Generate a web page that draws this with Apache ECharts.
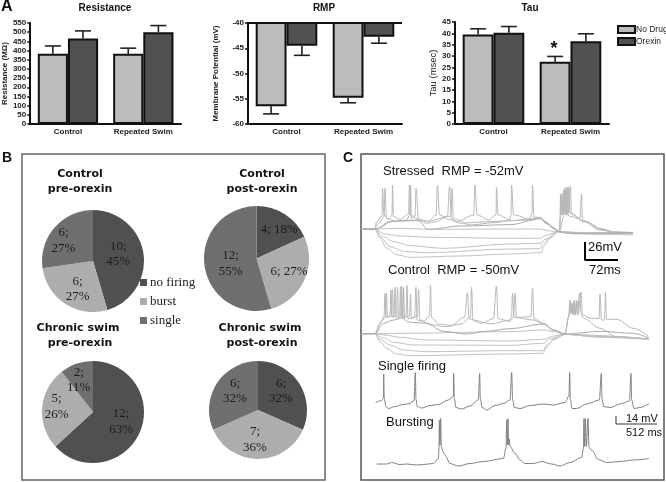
<!DOCTYPE html>
<html><head><meta charset="utf-8">
<script src="https://cdn.jsdelivr.net/npm/echarts@6/dist/echarts.min.js"></script>
<style>html,body{margin:0;padding:0;background:#fff}#c{width:666px;height:482px}</style></head>
<body><div id="c"></div>
<script>
// ---- Panel A data ----
const barCategories = ['Control', 'Repeated Swim'];
const drugNames = ['No Drug', 'Orexin'];
const resistanceNoDrug = [383, 382], resistanceOrexin = [465, 500];
const resistanceNoDrugErr = [425, 413], resistanceOrexinErr = [507, 536];
const rmpNoDrug = [-56.5, -54.8], rmpOrexin = [-44.5, -42.7];
const rmpNoDrugErr = [-58, -55.8], rmpOrexinErr = [-46.4, -44];
const tauNoDrug = [39.5, 27.5], tauOrexin = [40.3, 36.5];
const tauNoDrugErr = [42, 29.8], tauOrexinErr = [43, 39.8];
// ---- Panel B data ----
const firingNames = ['no firing', 'burst', 'single'];
const pieControlPre = [10, 6, 6], pieControlPrePct = [45, 27, 27];
const pieControlPost = [4, 6, 12], pieControlPostPct = [18, 27, 55];
const pieSwimPre = [12, 5, 2], pieSwimPrePct = [63, 26, 11];
const pieSwimPost = [6, 7, 6], pieSwimPostPct = [32, 36, 32];
// ---- Panel C data: [time ms, membrane potential mV] ----
const stressedHyper1 = [[0,-53.5],[28,-53.5],[78,-52.5],[135,-54],[298,-53.5],[358,-53.5],[378,-56.5],[395,-57.5],[445,-60],[544,-58.5]];
const stressedHyper2 = [[0,-53.5],[28,-54],[48,-61],[78,-64],[145,-66],[298,-67.5],[358,-67.5],[371,-62.5],[395,-57.5],[451,-59],[544,-59]];
const stressedHyper3 = [[0,-53.5],[28,-54],[45,-65],[65,-72.5],[98,-78.5],[165,-82.5],[298,-76],[358,-75],[368,-69],[395,-57.5],[478,-61.5],[544,-62.5]];
const stressedHyper4 = [[0,-53.5],[28,-54],[41,-67],[58,-80],[85,-87],[131,-89],[298,-83.5],[358,-83],[365,-75],[378,-66],[395,-57.5],[430,-61],[544,-60.5]];
const stressedHyper5 = [[0,-53.5],[28,-54],[38,-67],[51,-82],[71,-92],[98,-96],[198,-94],[298,-91],[361,-89],[365,-80],[378,-67.5],[395,-57.5],[425,-60],[544,-60]];
const stressedSpikeA = [[0,-53.5],[28,-54],[31,-42.5],[42,-34],[43,7.5],[46,-32.5],[55,-39],[62,-32.5],[63,12.5],[65,-35],[78,-39],[95,-31],[97,12.5],[99,-32.5],[115,-39],[135,-42],[150,-33],[153,12.5],[157,-32],[175,-39],[191,-42.5],[225,-33],[228,12.5],[232,-32],[255,-40],[270,-32],[271,9],[274,-32],[298,-40],[300,-32],[301,12.5],[305,-32],[338,-39],[342,-30],[343,12.5],[346,-36],[358,-36],[368,-42.5],[385,-52.5],[397,-57.5],[398,-35],[399,-1],[400,-32.5],[402,0],[403,-32.5],[406,7.5],[408,-30],[410,9],[411,-30],[414,10],[415,-30],[419,11],[421,-30],[445,-42.5],[478,-55],[511,-59],[544,-60]];
const stressedSpikeB = [[0,-53.5],[28,-54],[35,-45],[46,-35],[48,7.5],[51,-37.5],[70,-42],[91,-40],[97,-33],[99,12],[101,-37.5],[108,-34],[110,7.5],[115,-39],[131,-45],[151,-42.5],[173,-34],[177,10],[181,-39],[198,-45],[240,-43],[298,-41],[345,-38],[358,-36],[368,-42],[385,-52],[397,-57.5],[399,-35],[402,-5],[404,-32],[407,5],[409,-32],[411,7],[413,-32],[416,8],[418,-30],[438,-37.5],[441,-1],[443,-40],[458,-45],[478,-52.5],[505,-57.5],[544,-59]];
const stressedSpikeC = [[0,-53.5],[28,-54],[65,-42],[110,-41],[131,-42],[180,-34],[182,7.5],[185,-38],[218,-47.5],[265,-44],[298,-41],[345,-40],[358,-36],[370,-44],[385,-52],[397,-57.5],[405,-35],[408,5],[410,-33],[412,7],[414,-33],[421,-35],[451,-42.5],[478,-54],[518,-60],[544,-60]];
const stressedQuiet = [[0,-53.5],[28,-54],[60,-42],[112,-40],[135,-54],[200,-49],[298,-47],[358,-38],[372,-46],[397,-57.5],[411,-60],[544,-59]];
const controlHyper1 = [[0,-50.5],[28,-50.5],[78,-50],[298,-47.5],[365,-45],[385,-47.5],[408,-51.5],[470,-55],[575,-58]];
const controlHyper2 = [[0,-50.5],[28,-50.5],[48,-52.5],[78,-56],[131,-60],[298,-61.5],[365,-59],[385,-54],[408,-51.5],[575,-58.5]];
const controlHyper3 = [[0,-50.5],[28,-50.5],[41,-56],[65,-63.5],[105,-67.5],[298,-68],[365,-65],[378,-58],[408,-51.5],[480,-54],[575,-58.5]];
const controlHyper4 = [[0,-50.5],[28,-50.5],[38,-59],[58,-67.5],[85,-75],[131,-77.5],[298,-76],[365,-76],[371,-67.5],[388,-57.5],[408,-51.5],[480,-55],[575,-59]];
const controlHyper5 = [[0,-50.5],[28,-50.5],[38,-62.5],[51,-72.5],[71,-81],[98,-83.5],[298,-81],[365,-80],[368,-72.5],[385,-60],[408,-51.5],[478,-56],[575,-59]];
const controlSpikeA = [[0,-50.5],[28,-50.5],[38,-35],[46,-25],[48,10],[50,-26],[58,-24],[60,15],[62,-26],[66,-24],[68,19],[70,-27],[77,-24],[79,20],[81,-27],[90,-24],[92,22],[94,-28],[107,-26],[110,19],[112,-30],[125,-32],[137,-24],[139,22],[141,-26],[155,-36],[180,-38],[207,-26],[213,11],[216,-28],[240,-35],[265,-28],[271,21],[274,-28],[298,-32],[305,-26],[308,10],[311,-26],[340,-25],[343,18],[346,-28],[365,-35],[385,-45],[408,-51],[415,-25],[418,0],[420,-20],[422,-5],[424,-22],[426,0],[428,-22],[431,0],[433,-22],[437,10],[440,-20],[445,-27.5],[478,-42.5],[511,-55],[575,-59]];
const controlSpikeB = [[0,-50.5],[28,-50.5],[40,-33],[49,-25],[51,10],[53,-26],[61,-24],[63,16],[65,-26],[71,-24],[73,19],[75,-27],[79,-24],[81,20],[83,-27],[97,-24],[99,9],[101,-28],[113,-24],[115,16],[118,-30],[140,-37],[170,-40],[200,-36],[219,-26],[221,19],[224,-30],[260,-36],[298,-30],[301,-26],[303,10],[306,-26],[345,-30],[365,-36],[385,-45],[408,-51],[416,-25],[419,-2],[421,-20],[423,-5],[425,-22],[427,-3],[429,-22],[432,-2],[434,-22],[440,12],[443,-22],[458,-27],[476,-28],[478,9],[481,-30],[487,-30],[489,12],[491,-29],[511,-29],[545,-42.5],[575,-55]];
const controlSpikeC = [[0,-50.5],[28,-50.5],[45,-35],[65,-30],[83,-27],[85,19],[87,-30],[95,-33],[130,-35],[165,-47],[210,-51],[250,-47],[298,-43],[365,-36],[385,-45],[408,-51],[480,-47],[545,-50],[575,-57]];
const singleFiring = [[68,-35],[140,-31],[160,-27],[164,22],[172,-27],[192,-43],[220,-47],[300,-43],[400,-39],[480,-37],[528,-31],[544,25],[552,-30],[568,-43],[620,-46],[720,-41],[820,-39],[940,-30],[1000,-22],[1004,23],[1012,-27],[1032,-45],[1100,-48],[1200,-42],[1300,-30],[1316,23],[1324,-27],[1344,-45],[1400,-50],[1500,-41],[1600,-37],[1680,-30],[1700,25],[1712,-30],[1732,-45],[1800,-47],[1920,-41],[2080,-38],[2200,-40],[2340,-35],[2388,-22],[2396,25],[2404,-30],[2424,-47],[2480,-47],[2600,-38],[2752,-30],[2776,23],[2784,-27],[2804,-43],[2880,-45],[3020,-37],[3112,-32],[3132,23],[3140,-30],[3168,-47],[3240,-45],[3348,-37]];
const bursting = [[80,-68],[200,-68],[260,-65],[360,-69],[440,-68],[560,-70],[640,-69],[760,-67],[820,-57],[828,-37],[832,20],[840,-30],[848,23],[856,-33],[864,-33],[900,-50],[960,-67],[1060,-72],[1200,-67],[1360,-63],[1600,-57],[1632,-37],[1640,20],[1648,-30],[1656,23],[1664,-30],[1672,-18],[1680,-33],[1740,-47],[1800,-60],[1860,-67],[1960,-67],[2060,-63],[2180,-68],[2280,-72],[2400,-65],[2540,-55],[2560,-37],[2568,23],[2576,-33],[2584,23],[2596,-33],[2616,23],[2628,-35],[2660,-40],[2740,-59],[2840,-65],[3000,-63],[3160,-60],[3348,-57]];
const scaleBarFamily = [[448,-73],[448,-100],[514,-100]];
const scaleBarSpont = [[2952,28],[2952,12],[3444,12]];

const SANS = '"Liberation Sans", Arial, sans-serif', SERIF = '"Liberation Serif", serif', VERD = '"DejaVu Sans", sans-serif';
const LIGHT = '#bcbcbc', DARK = '#515151';

const grid = [], xAxis = [], yAxis = [], series = [];

function errSeries(name, g, sign, bars, errs) {
  return {
    type: 'custom', name, xAxisIndex: g, yAxisIndex: g, silent: true, z: 1,
    data: bars.map((b, i) => [i, b, errs[i]]),
    encode: { x: 0, y: 1 },
    renderItem(params, api) {
      const band = api.size([1, 0])[0];
      const off = band * 0.2 * sign;
      const a = api.coord([api.value(0), api.value(1)]);
      const b = api.coord([api.value(0), api.value(2)]);
      const x = a[0] + off;
      const st = { stroke: '#222', lineWidth: 1.6 };
      return { type: 'group', children: [
        { type: 'line', shape: { x1: x, y1: a[1], x2: x, y2: b[1] }, style: st },
        { type: 'line', shape: { x1: x - 8, y1: b[1], x2: x + 8, y2: b[1] }, style: st }
      ] };
    }
  };
}

function barPanel(g, left, top, height, yMin, yMax, step, yName, nameGap, nameBold, nameSize, a, b, ea, eb, extra) {
  grid.push({ left, top, width: 154, height, show: false });
  xAxis.push({ gridIndex: g, type: 'category', data: barCategories, position: 'bottom',
    axisLine: { onZero: false, lineStyle: { color: '#111', width: 2 } },
    axisTick: { alignWithLabel: true, length: 3, lineStyle: { color: '#111', width: 1.5 } },
    axisLabel: { interval: 0, hideOverlap: false, color: '#222', fontFamily: SANS, fontSize: 8, fontWeight: 'bold', margin: 4 },
    splitLine: { show: false } });
  yAxis.push({ gridIndex: g, type: 'value', min: yMin, max: yMax, interval: step,
    name: yName, nameLocation: 'middle', nameGap, nameRotate: 90,
    nameTextStyle: { color: '#222', fontFamily: SANS, fontSize: nameSize, fontWeight: nameBold ? 'bold' : 'normal' },
    axisLine: { show: true, lineStyle: { color: '#111', width: 2 } },
    axisTick: { show: true, length: 3, lineStyle: { color: '#111', width: 1.5 } },
    axisLabel: { color: '#222', fontFamily: SANS, fontSize: 8, fontWeight: 'bold', margin: 4 },
    splitLine: { show: false } });
  const barStyle = c => ({ color: c, borderColor: '#111', borderWidth: 2 });
  const first = { type: 'bar', name: drugNames[0], xAxisIndex: g, yAxisIndex: g, data: a, silent: true, z: 2,
    barGap: 0, barCategoryGap: '20%', itemStyle: barStyle(LIGHT) };
  if (extra) first.markLine = extra;
  series.push(first,
    { type: 'bar', name: drugNames[1], xAxisIndex: g, yAxisIndex: g, data: b, silent: true, z: 2,
      barGap: 0, barCategoryGap: '20%', itemStyle: barStyle(DARK) },
    errSeries(yName + ' no drug SEM', g, -1, a, ea),
    errSeries(yName + ' orexin SEM', g, 1, b, eb));
}

barPanel(0, 27, 23, 101, 0, 550, 50, 'Resistance (MΩ)', 17, true, 8,
  resistanceNoDrug, resistanceOrexin, resistanceNoDrugErr, resistanceOrexinErr);
barPanel(1, 248, 23, 101, -60, -40, 5, 'Membrane Potential (mV)', 28, true, 8,
  rmpNoDrug, rmpOrexin, rmpNoDrugErr, rmpOrexinErr,
  { silent: true, symbol: 'none', label: { show: false }, lineStyle: { color: '#111', width: 2, type: 'solid' }, data: [{ yAxis: -40 }] });
barPanel(2, 455, 22, 102, 0, 45, 5, 'Tau (msec)', 17, false, 9.5,
  tauNoDrug, tauOrexin, tauNoDrugErr, tauOrexinErr);

function tracePanel(g, left, top, width, height, xMax, yMin, yMax, traces) {
  grid.push({ left, top, width, height, show: false });
  xAxis.push({ gridIndex: g, type: 'value', show: false, min: 0, max: xMax });
  yAxis.push({ gridIndex: g, type: 'value', show: false, min: yMin, max: yMax });
  traces.forEach(([data, color, w, smooth], i) => series.push({
    type: 'line', name: 'trace ' + g + '-' + i, xAxisIndex: g, yAxisIndex: g, data, silent: true,
    showSymbol: false, symbol: 'none', clip: false, smooth: smooth ? 0.35 : false, smoothMonotone: 'x',
    lineStyle: { color, width: w }, z: 3
  }));
}
const TR = '#c2c2c2', SP = '#b8b8b8';
tracePanel(3, 361, 180, 289, 90, 578, -115, 20, [
  [stressedHyper1, TR, 1, 1], [stressedHyper2, TR, 1, 1], [stressedHyper3, TR, 1, 1], [stressedHyper4, TR, 1, 1], [stressedHyper5, TR, 1, 1],
  [stressedSpikeA, SP, 1, 1], [stressedSpikeB, SP, 1, 1], [stressedSpikeC, SP, 1, 1], [stressedQuiet, '#aaa', 1, 1],
  [scaleBarFamily, '#000', 2, 0]
]);
tracePanel(4, 361, 280, 289, 80, 578, -90, 30, [
  [controlHyper1, TR, 1, 1], [controlHyper2, TR, 1, 1], [controlHyper3, TR, 1, 1], [controlHyper4, TR, 1, 1], [controlHyper5, TR, 1, 1],
  [controlSpikeA, SP, 1, 1], [controlSpikeB, SP, 1, 1], [controlSpikeC, '#aaa', 1, 1]
]);
tracePanel(5, 370, 370, 290, 45, 3480, -60, 30, [[singleFiring, '#808080', 1, 1]]);
tracePanel(6, 370, 415, 290, 65, 3480, -100, 30, [[bursting, '#808080', 1, 1], [scaleBarSpont, '#333', 1, 0]]);

function piePanel(name, values, pcts, cx, cy, r, offsets, oneLine) {
  const colors = ['#505050', '#adadad', '#6f6f6f'];
  series.push({ type: 'pie', name, center: [cx, cy], radius: r, startAngle: 90, clockwise: true, silent: true, z: 4,
    animation: false, avoidLabelOverlap: false, labelLayout: { hideOverlap: false },
    data: values.map((v, i) => ({
      name: firingNames[i], value: v, itemStyle: { color: colors[i] },
      label: { formatter: v + ';' + (oneLine[i] ? ' ' : '\n') + pcts[i] + '%', offset: offsets[i] }
    })),
    label: { show: true, position: 'inner', color: '#1c1c1c', fontFamily: SERIF, fontSize: 13, lineHeight: 15.5, overflow: 'none' },
    labelLine: { show: false }
  });
}
piePanel('Control pre-orexin', pieControlPre, pieControlPrePct, 93, 261, 51, [[-3,-3],[0,4],[-8,-2]], [0,0,0]);
piePanel('Control post-orexin', pieControlPost, pieControlPostPct, 256.5, 258.5, 52.5, [[7,-4],[6,1],[3,1]], [1,1,0]);
piePanel('Chronic swim pre-orexin', pieSwimPre, pieSwimPrePct, 93, 412, 51, [[2,-2],[-8,-3],[-5,-5]], [0,0,0]);
piePanel('Chronic swim post-orexin', pieSwimPost, pieSwimPostPct, 258, 410, 49, [[0,-4],[-3,2],[0,-4]], [0,0,0]);

function txt(text, x, y, font, size, weight, align, color) {
  return { type: 'text', x, y, silent: true, z: 10, style: { text, font: `${weight || 'normal'} ${size}px ${font}`,
    fill: color || '#111', textAlign: align || 'left', textVerticalAlign: 'middle' } };
}
const graphic = [
  { type: 'rect', shape: { x: 22, y: 154, width: 303, height: 326 }, style: { fill: 'none', stroke: '#666', lineWidth: 1.5 }, silent: true },
  { type: 'rect', shape: { x: 361, y: 154, width: 303, height: 326 }, style: { fill: 'none', stroke: '#555', lineWidth: 1.5 }, silent: true },
  txt('A', 1, 7, SANS, 16, 'bold'), txt('B', 2, 158, SANS, 14, 'bold'), txt('C', 343, 158, SANS, 14, 'bold'),
  txt('Resistance', 105, 8, SANS, 10, 'bold', 'center'), txt('RMP', 324, 8, SANS, 10, 'bold', 'center'), txt('Tau', 530, 8, SANS, 10, 'bold', 'center'),
  txt('*', 554, 49, SANS, 18, 'bold', 'center'),
  txt('Control', 80, 174, VERD, 11, 'bold', 'center'), txt('pre-orexin', 80, 189, VERD, 11, 'bold', 'center'),
  txt('Control', 262, 174, VERD, 11, 'bold', 'center'), txt('post-orexin', 262, 189, VERD, 11, 'bold', 'center'),
  txt('Chronic swim', 78, 328, VERD, 11, 'bold', 'center'), txt('pre-orexin', 80, 343, VERD, 11, 'bold', 'center'),
  txt('Chronic swim', 260, 328, VERD, 11, 'bold', 'center'), txt('post-orexin', 262, 343, VERD, 11, 'bold', 'center'),
  txt('Stressed  RMP = -52mV', 383, 171, SANS, 13), txt('Control  RMP = -50mV', 388, 270, SANS, 13),
  txt('26mV', 588, 247, SANS, 13), txt('72ms', 589, 270, SANS, 13),
  txt('Single firing', 378, 366, SANS, 13), txt('Bursting', 386, 422, SANS, 13),
  txt('14 mV', 626, 419, SANS, 11), txt('512 ms', 626, 433, SANS, 11)
];

const chart = echarts.init(document.getElementById('c'), null, { renderer: 'canvas' });
chart.setOption({
  animation: false, backgroundColor: '#fff', tooltip: { show: false },
  grid, xAxis, yAxis, series, graphic,
  legend: [
    { data: drugNames, left: 617, top: 25, orient: 'vertical', icon: 'rect', itemWidth: 17, itemHeight: 7, itemGap: 3, selectedMode: false,
      padding: 0, textStyle: { color: '#222', fontFamily: SANS, fontSize: 8.5, padding: [0, 0, 0, -4] } },
    { data: firingNames, left: 140, top: 276, orient: 'vertical', icon: 'rect', itemWidth: 7, itemHeight: 7, itemGap: 6, selectedMode: false,
      padding: 0, textStyle: { color: '#222', fontFamily: SERIF, fontSize: 13, padding: [0, 0, 0, -2] } }
  ]
});
</script></body></html>
